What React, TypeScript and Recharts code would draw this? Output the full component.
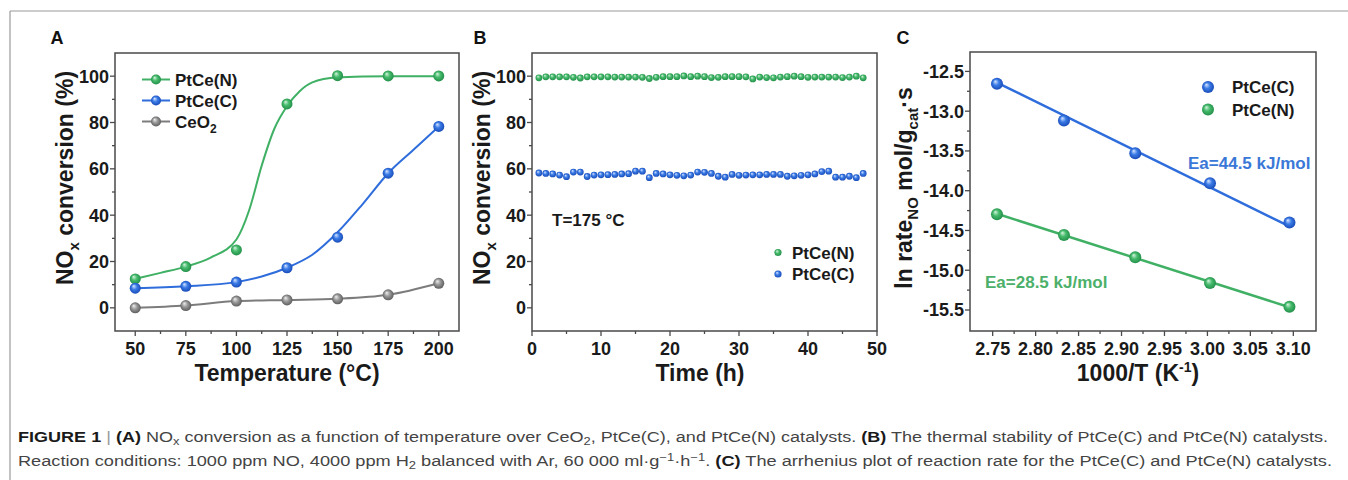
import React from "react";
import {
  ComposedChart,
  ScatterChart,
  Line,
  Scatter,
  XAxis,
  YAxis,
  ReferenceArea,
} from "recharts";

// ---- panel A: NOx conversion vs temperature ----
const temps = [50, 75, 100, 125, 150, 175, 200];
const ptceNPoints = [12.5, 17.8, 25.0, 88.0, 100.2, 100.1, 100.1];
const ptceCPoints = [8.5, 9.3, 11.1, 17.3, 30.5, 58.1, 78.3];
const ceo2Points = [0, 1.0, 2.9, 3.4, 3.9, 5.6, 10.6];

// fitted curves
const fitTempsN = [50, 62.5, 75, 87.5, 100, 106.25, 112.5, 118.75, 125, 131.25, 137.5, 150, 162.5, 175, 200];
const fitValuesN = [12.5, 15.1, 17.8, 21.8, 29.5, 42, 61.4, 77.3, 87, 93.5, 97.3, 99.5, 99.9, 100, 100];
const fitTempsC = [50, 75, 100, 112.5, 125, 137.5, 150, 162.5, 175, 187.5, 200];
const fitValuesC = [8.5, 9.3, 11.1, 13.5, 17.3, 22.9, 32.6, 44.9, 58.1, 68.2, 78.3];

const tempTicks = [50, 62.5, 75, 87.5, 100, 112.5, 125, 137.5, 150, 162.5, 175, 187.5, 200];
const tempMajor = [50, 75, 100, 125, 150, 175, 200];
const convTicks = [0, 10, 20, 30, 40, 50, 60, 70, 80, 90, 100];
const convMajor = [0, 20, 40, 60, 80, 100];

// ---- panel B: stability at 175 °C ----
const hours = [1, 2, 3, 4, 5, 6, 7, 8, 9, 10, 11, 12, 13, 14, 15, 16, 17, 18, 19, 20, 21, 22, 23, 24,
  25, 26, 27, 28, 29, 30, 31, 32, 33, 34, 35, 36, 37, 38, 39, 40, 41, 42, 43, 44, 45, 46, 47, 48];
const stabN = [99.3, 99.7, 99.7, 99.7, 99.7, 99.5, 99.2, 99.7, 99.7, 99.7, 99.7, 99.6, 99.6, 99.6, 99.6, 99.5,
  99.0, 99.5, 99.8, 99.8, 99.8, 100.1, 99.8, 100.0, 99.8, 99.4, 99.5, 99.8, 99.8, 99.8, 99.7, 98.8,
  99.6, 99.4, 99.3, 99.6, 99.8, 100.0, 99.8, 99.5, 99.6, 99.6, 99.6, 99.6, 99.4, 99.6, 100.0, 99.3];
const stabC = [58.2, 58.0, 57.8, 57.3, 56.6, 58.6, 58.6, 56.7, 57.3, 57.4, 57.5, 57.6, 57.8, 57.9, 59.0, 59.0,
  56.2, 58.0, 57.8, 57.4, 57.2, 57.0, 57.3, 58.6, 58.5, 58.0, 56.8, 56.4, 57.6, 57.2, 57.3, 57.4,
  57.4, 57.6, 57.6, 57.6, 56.8, 57.0, 57.2, 57.4, 57.8, 58.8, 59.0, 56.4, 56.4, 56.8, 56.2, 58.0];
const timeTicks = [0, 5, 10, 15, 20, 25, 30, 35, 40, 45, 50];
const timeMajor = [0, 10, 20, 30, 40, 50];

// ---- panel C: Arrhenius plot ----
const invT = [2.755, 2.833, 2.916, 3.003, 3.0955];
const lnRateC = [-12.655, -13.117, -13.528, -13.906, -14.4];
const lnRateN = [-14.296, -14.557, -14.838, -15.161, -15.459];
const fitEnds = [2.755, 3.0955];
const fitLineC = [-12.64, -14.45];
const fitLineN = [-14.29, -15.465];
const invTTicks = [2.75, 2.775, 2.8, 2.825, 2.85, 2.875, 2.9, 2.925, 2.95, 2.975, 3.0, 3.025, 3.05, 3.075, 3.1];
const invTMajor = [2.75, 2.8, 2.85, 2.9, 2.95, 3.0, 3.05, 3.1];
const lnTicks = [-12.5, -12.75, -13, -13.25, -13.5, -13.75, -14, -14.25, -14.5, -14.75, -15, -15.25, -15.5];
const lnMajor = [-12.5, -13, -13.5, -14, -14.5, -15, -15.5];

const FONT = "'Liberation Sans', Arial, Helvetica, sans-serif";
const AXIS = "#4a4a4a";
const GREEN = "#3fb064";
const BLUE = "#2e6ddb";
const GRAY = "#7c7c7c";

const pts = (xs: number[], ys: number[]) => xs.map((x, i) => ({ x, y: ys[i] }));

const tickText: React.CSSProperties = { fontFamily: FONT, fontSize: 18, fontWeight: 700, fill: "#1a1a1a" };

const near = (arr: number[], v: number) => arr.some((m) => Math.abs(m - v) < 1e-6);

function makeXTick(major: number[], fmt: (v: number) => string) {
  return (props: any) => {
    const { x, y, payload } = props;
    const isMajor = near(major, payload.value);
    return (
      <g>
        <line x1={x} x2={x} y1={y} y2={y + (isMajor ? 5 : 3)} stroke={AXIS} strokeWidth={1.3} />
        {isMajor && (
          <text x={x} y={y + 11} dy="0.71em" textAnchor="middle" style={tickText}>
            {fmt(payload.value)}
          </text>
        )}
      </g>
    );
  };
}

function makeYTick(major: number[], fmt: (v: number) => string) {
  return (props: any) => {
    const { x, y, payload } = props;
    const isMajor = near(major, payload.value);
    return (
      <g>
        <line x1={x - (isMajor ? 5 : 3)} x2={x} y1={y} y2={y} stroke={AXIS} strokeWidth={1.3} />
        {isMajor && (
          <text x={x - 6} y={y} dy="0.355em" textAnchor="end" style={tickText}>
            {fmt(payload.value)}
          </text>
        )}
      </g>
    );
  };
}

const ball = (grad: string, r: number) => (p: any) => <circle cx={p.cx} cy={p.cy} r={r} fill={`url(#${grad})`} />;

function Gradients() {
  const g = (id: string, hi: string, mid: string, lo: string) => (
    <radialGradient id={id} cx="50%" cy="50%" r="55%" fx="35%" fy="30%">
      <stop offset="0%" stopColor={hi} />
      <stop offset="45%" stopColor={mid} />
      <stop offset="100%" stopColor={lo} />
    </radialGradient>
  );
  return (
    <svg width={0} height={0} style={{ position: "absolute" }}>
      <defs>
        {g("ballG", "#d8f4e0", "#46bb6c", "#1f8a45")}
        {g("ballB", "#dbe7ff", "#3a7be6", "#1546b3")}
        {g("ballK", "#f0f0f0", "#9a9a9a", "#555555")}
      </defs>
    </svg>
  );
}

function PanelA() {
  return (
    <ComposedChart width={470} height={400} margin={{ top: 53, right: 11, left: 55, bottom: 29 }}>
      <XAxis type="number" dataKey="x" domain={[40, 210]} ticks={tempTicks} interval={0}
        tickSize={0} tickMargin={0} axisLine={false} tickLine={false} height={40}
        tick={makeXTick(tempMajor, (v) => String(v))} />
      <YAxis type="number" dataKey="y" domain={[-10, 110]} ticks={convTicks} interval={0}
        tickSize={0} tickMargin={0} axisLine={false} tickLine={false} width={60}
        tick={makeYTick(convMajor, (v) => String(v))} />
      <ReferenceArea x1={40} x2={210} y1={-10} y2={110} fill="none" stroke={AXIS} strokeWidth={1.5} />
      <Line data={pts(fitTempsN, fitValuesN)} dataKey="y" type="monotone" stroke={GREEN} strokeWidth={2} dot={false} isAnimationActive={false} />
      <Line data={pts(fitTempsC, fitValuesC)} dataKey="y" type="monotone" stroke={BLUE} strokeWidth={2} dot={false} isAnimationActive={false} />
      <Line data={pts(temps, ceo2Points)} dataKey="y" type="monotone" stroke={GRAY} strokeWidth={2} dot={false} isAnimationActive={false} />
      <Scatter data={pts(temps, ptceNPoints)} dataKey="y" shape={ball("ballG", 5.5)} isAnimationActive={false} />
      <Scatter data={pts(temps, ptceCPoints)} dataKey="y" shape={ball("ballB", 5.5)} isAnimationActive={false} />
      <Scatter data={pts(temps, ceo2Points)} dataKey="y" shape={ball("ballK", 5.5)} isAnimationActive={false} />
    </ComposedChart>
  );
}

function PanelB() {
  return (
    <ScatterChart width={450} height={400} margin={{ top: 53, right: 13, left: 32, bottom: 29 }}>
      <XAxis type="number" dataKey="x" domain={[0, 50]} ticks={timeTicks} interval={0}
        tickSize={0} tickMargin={0} axisLine={false} tickLine={false} height={40}
        tick={makeXTick(timeMajor, (v) => String(v))} />
      <YAxis type="number" dataKey="y" domain={[-10, 110]} ticks={convTicks} interval={0}
        tickSize={0} tickMargin={0} axisLine={false} tickLine={false} width={60}
        tick={makeYTick(convMajor, (v) => String(v))} />
      <ReferenceArea x1={0} x2={50} y1={-10} y2={110} fill="none" stroke={AXIS} strokeWidth={1.5} />
      <Scatter data={pts(hours, stabN)} dataKey="y" shape={ball("ballG", 3.4)} isAnimationActive={false} />
      <Scatter data={pts(hours, stabC)} dataKey="y" shape={ball("ballB", 3.4)} isAnimationActive={false} />
    </ScatterChart>
  );
}

function PanelC() {
  return (
    <ComposedChart width={468} height={400} margin={{ top: 52, right: 32, left: 30, bottom: 29 }}>
      <XAxis type="number" dataKey="x" domain={[2.7236, 3.1264]} ticks={invTTicks} interval={0}
        tickSize={0} tickMargin={0} axisLine={false} tickLine={false} height={40}
        tick={makeXTick(invTMajor, (v) => v.toFixed(2))} />
      <YAxis type="number" dataKey="y" domain={[-15.764, -12.256]} ticks={lnTicks} interval={0}
        tickSize={0} tickMargin={0} axisLine={false} tickLine={false} width={60}
        tick={makeYTick(lnMajor, (v) => v.toFixed(1))} />
      <ReferenceArea x1={2.7236} x2={3.1264} y1={-15.764} y2={-12.256} fill="none" stroke={AXIS} strokeWidth={1.5} />
      <Line data={pts(fitEnds, fitLineC)} dataKey="y" type="linear" stroke={BLUE} strokeWidth={2.5} dot={false} isAnimationActive={false} />
      <Line data={pts(fitEnds, fitLineN)} dataKey="y" type="linear" stroke={GREEN} strokeWidth={2.5} dot={false} isAnimationActive={false} />
      <Scatter data={pts(invT, lnRateC)} dataKey="y" shape={ball("ballB", 6)} isAnimationActive={false} />
      <Scatter data={pts(invT, lnRateN)} dataKey="y" shape={ball("ballG", 6)} isAnimationActive={false} />
    </ComposedChart>
  );
}

const titleStyle: React.CSSProperties = { fontFamily: FONT, fontSize: 23, fontWeight: 700, fill: "#1a1a1a" };
const legendStyle: React.CSSProperties = { fontFamily: FONT, fontSize: 17, fontWeight: 700, fill: "#1a1a1a" };
const letterStyle: React.CSSProperties = { fontFamily: FONT, fontSize: 18, fontWeight: 700, fill: "#111" };
const capPlain: React.CSSProperties = { fontFamily: FONT, fontSize: 14, fill: "#444" };

function Overlay() {
  const legendA = [
    { name: "PtCe(N)", color: GREEN, grad: "ballG", y: 79.5 },
    { name: "PtCe(C)", color: BLUE, grad: "ballB", y: 100.5 },
    { name: "CeO", sub: "2", color: GRAY, grad: "ballK", y: 121.5 },
  ];
  const B = { fontWeight: 700, fill: "#1a1a1a" };
  return (
    <svg width={1348} height={480} style={{ position: "absolute", left: 0, top: 0, pointerEvents: "none" }}>
      {/* journal frame */}
      <line x1={10} y1={11} x2={1348} y2={11} stroke="#9a9a9a" strokeWidth={1.2} />
      <line x1={10} y1={11} x2={10} y2={480} stroke="#9a9a9a" strokeWidth={1.2} />

      {/* panel letters */}
      <text x={57} y={44} textAnchor="middle" style={letterStyle}>A</text>
      <text x={480} y={44} textAnchor="middle" style={letterStyle}>B</text>
      <text x={903} y={44} textAnchor="middle" style={letterStyle}>C</text>

      {/* panel A titles + legend */}
      <text transform="translate(73,178) rotate(-90)" textAnchor="middle" style={titleStyle}>
        NO<tspan dy={6} fontSize={15}>x</tspan><tspan dy={-6}> conversion (%)</tspan>
      </text>
      <text x={287} y={381} textAnchor="middle" style={titleStyle}>Temperature (°C)</text>
      {legendA.map((l) => (
        <g key={l.name}>
          <line x1={142} x2={170} y1={l.y} y2={l.y} stroke={l.color} strokeWidth={2} />
          <circle cx={156} cy={l.y} r={5} fill={`url(#${l.grad})`} />
          <text x={175} y={l.y + 6} style={legendStyle}>
            {l.name}
            {l.sub && <tspan dy={5} fontSize={12}>{l.sub}</tspan>}
          </text>
        </g>
      ))}

      {/* panel B */}
      <text transform="translate(490,178) rotate(-90)" textAnchor="middle" style={titleStyle}>
        NO<tspan dy={6} fontSize={15}>x</tspan><tspan dy={-6}> conversion (%)</tspan>
      </text>
      <text x={700} y={381} textAnchor="middle" style={titleStyle}>Time (h)</text>
      <text x={552} y={226} style={legendStyle}>T=175 °C</text>
      <circle cx={778} cy={252.5} r={3.6} fill="url(#ballG)" />
      <text x={792} y={258.5} style={legendStyle}>PtCe(N)</text>
      <circle cx={778} cy={274} r={3.6} fill="url(#ballB)" />
      <text x={792} y={280} style={legendStyle}>PtCe(C)</text>

      {/* panel C */}
      <text transform="translate(912,188) rotate(-90)" textAnchor="middle" style={titleStyle}>
        ln rate<tspan dy={6} fontSize={15}>NO</tspan><tspan dy={-6}> mol/g</tspan>
        <tspan dy={6} fontSize={15}>cat</tspan><tspan dy={-6}>·s</tspan>
      </text>
      <text x={1138} y={381} textAnchor="middle" style={titleStyle}>
        1000/T (K<tspan dy={-9} fontSize={14}>-1</tspan><tspan dy={9}>)</tspan>
      </text>
      <circle cx={1208} cy={87} r={6} fill="url(#ballB)" />
      <text x={1232} y={93} style={legendStyle}>PtCe(C)</text>
      <circle cx={1208} cy={109.5} r={6} fill="url(#ballG)" />
      <text x={1232} y={115.5} style={legendStyle}>PtCe(N)</text>
      <text x={1188} y={168.5} style={{ ...legendStyle, fill: "#3a78d8" }}>Ea=44.5 kJ/mol</text>
      <text x={985} y={288} style={{ ...legendStyle, fill: "#4cb06a" }}>Ea=28.5 kJ/mol</text>

      {/* caption */}
      <text x={18} y={442} textLength={1310} lengthAdjust="spacingAndGlyphs" style={capPlain}>
        <tspan {...B}>FIGURE 1</tspan> <tspan fill="#999">|</tspan> <tspan {...B}>(A)</tspan> NO
        <tspan dy={3} fontSize={10}>x</tspan><tspan dy={-3}> conversion as a function of temperature over CeO</tspan>
        <tspan dy={3} fontSize={10}>2</tspan><tspan dy={-3}>, PtCe(C), and PtCe(N) catalysts. </tspan>
        <tspan {...B}>(B)</tspan> The thermal stability of PtCe(C) and PtCe(N) catalysts.
      </text>
      <text x={18} y={466} textLength={1314} lengthAdjust="spacingAndGlyphs" style={capPlain}>
        Reaction conditions: 1000 ppm NO, 4000 ppm H<tspan dy={3} fontSize={10}>2</tspan>
        <tspan dy={-3}> balanced with Ar, 60 000 ml·g</tspan><tspan dy={-5} fontSize={10}>−1</tspan>
        <tspan dy={5}>·h</tspan><tspan dy={-5} fontSize={10}>−1</tspan><tspan dy={5}>. </tspan>
        <tspan {...B}>(C)</tspan> The arrhenius plot of reaction rate for the PtCe(C) and PtCe(N) catalysts.
      </text>
    </svg>
  );
}

export default function App() {
  return (
    <div style={{ position: "absolute", left: 0, top: 0, width: 1348, height: 480, background: "#fff", overflow: "hidden" }}>
      <Gradients />
      <div style={{ position: "absolute", left: 0, top: 0 }}>
        <PanelA />
      </div>
      <div style={{ position: "absolute", left: 440, top: 0 }}>
        <PanelB />
      </div>
      <div style={{ position: "absolute", left: 880, top: 0 }}>
        <PanelC />
      </div>
      <Overlay />
    </div>
  );
}
